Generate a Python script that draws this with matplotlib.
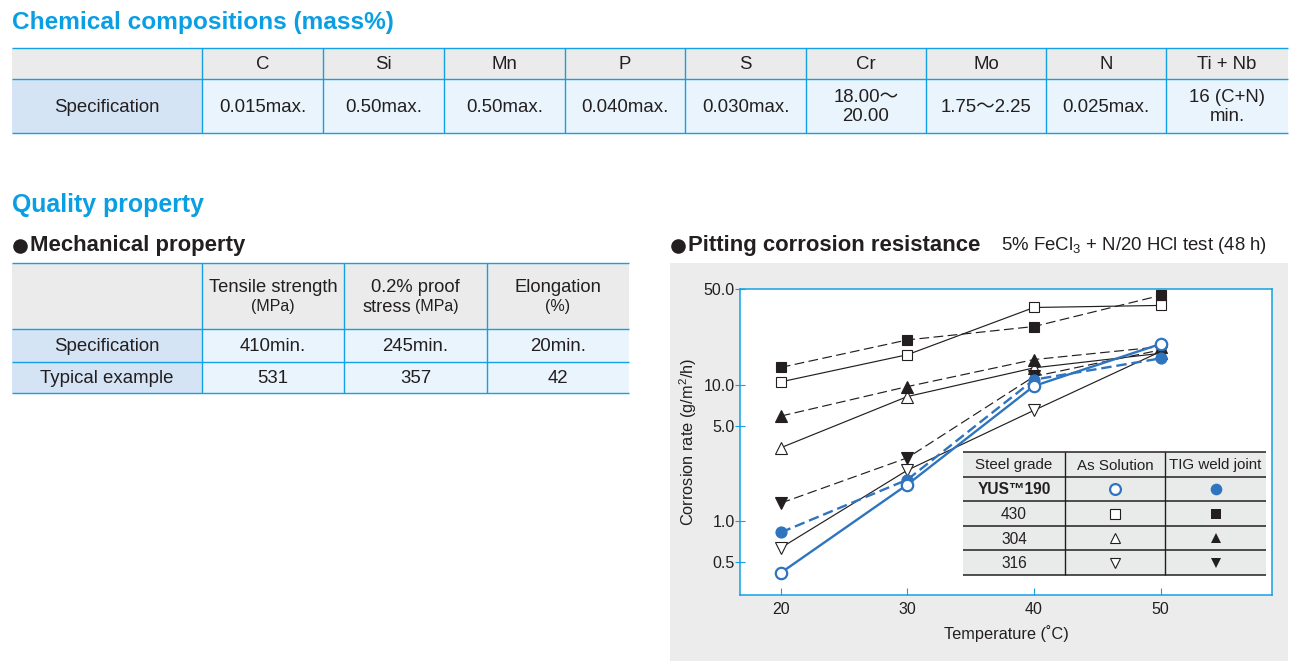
import matplotlib
matplotlib.use('Agg')
import matplotlib.pyplot as plt
from matplotlib.patches import Rectangle
import matplotlib.ticker as mticker

plt.rcParams['font.family'] = ['Liberation Sans', 'Noto Sans CJK JP', 'DejaVu Sans']
plt.rcParams['mathtext.fontset'] = 'custom'
plt.rcParams['mathtext.rm'] = 'Liberation Sans'
plt.rcParams['mathtext.it'] = 'Liberation Sans:italic'
plt.rcParams['mathtext.bf'] = 'Liberation Sans:bold'
plt.rcParams['lines.scale_dashes'] = False

# ---------------- data ----------------
chem_row_label = 'Specification'
chem_elements = ['C', 'Si', 'Mn', 'P', 'S', 'Cr', 'Mo', 'N', 'Ti + Nb']
chem_spec = ['0.015max.', '0.50max.', '0.50max.', '0.040max.', '0.030max.',
             '18.00～\n20.00', '1.75～2.25', '0.025max.', '16 (C+N)\nmin.']

mech_head_main = ['Tensile strength', '0.2% proof', 'Elongation']
mech_head_unit = ['(MPa)', '(MPa)', '(%)']
mech_rows = ['Specification', 'Typical example']
mech_spec = ['410min.', '245min.', '20min.']
mech_typ = ['531', '357', '42']

temps = [20, 30, 40, 50]
yus_as = [0.42, 1.86, 9.8, 19.9]
yus_tig = [0.83, 2.02, 10.9, 15.6]
s430_as = [10.5, 16.6, 36.8, 38.1]
s430_tig = [13.4, 21.3, 26.7, 45.1]
s304_as = [3.46, 8.2, 13.3, 17.0]
s304_tig = [5.9, 9.7, 15.3, 19.0]
s316_as = [0.64, 2.37, 6.5, 17.5]
s316_tig = [1.36, 2.92, 11.5, 18.0]

ytick_vals = [0.5, 1.0, 5.0, 10.0, 50.0]
ytick_labels = ['0.5', '1.0', '5.0', '10.0', '50.0']
xtick_vals = [20, 30, 40, 50]

legend_grades = ['YUS™190', '430', '304', '316']
legend_head = ['Steel grade', 'As Solution', 'TIG weld joint']

# ---------------- style ----------------
W, H = 1303, 672
CYAN = '#14a0e4'
TITLE = '#0a9fe3'
TXT = '#231f20'
GRAY_HEAD = '#ebebeb'
BLUE_LAB = '#d4e4f5'
BLUE_CELL = '#e9f4fc'
PANEL = '#ebeceb'
BLUE = '#2e74bf'
BLK = '#231f20'

fig = plt.figure(figsize=(W / 100, H / 100), dpi=100)
fig.patch.set_facecolor('white')

ov = fig.add_axes([0, 0, 1, 1], zorder=0)
ov.set_xlim(0, W)
ov.set_ylim(H, 0)
ov.axis('off')


def rect(a, x0, x1, y0, y1, c):
    a.add_patch(Rectangle((x0, y0), x1 - x0, y1 - y0, facecolor=c,
                          edgecolor='none', zorder=1))


def hline(a, y, x0, x1, c=CYAN, lw=1.0):
    a.plot([x0, x1], [y, y], color=c, lw=lw, solid_capstyle='butt', zorder=3)


def vline(a, x, y0, y1, c=CYAN, lw=1.0):
    a.plot([x, x], [y0, y1], color=c, lw=lw, solid_capstyle='butt', zorder=3)


# ---- section titles ----
ov.text(12, 22, 'Chemical compositions (mass%)', fontsize=17.6, fontweight='bold',
        color=TITLE, ha='left', va='center')
ov.text(12, 205, 'Quality property', fontsize=17.9, fontweight='bold',
        color=TITLE, ha='left', va='center')

# ---- chemical table ----
cols1 = [12, 202, 323, 444, 565, 685, 806, 926, 1046, 1166, 1288]
r1 = [48, 79, 133]
rect(ov, cols1[0], cols1[-1], r1[0], r1[1], GRAY_HEAD)
rect(ov, cols1[0], cols1[1], r1[1], r1[2], BLUE_LAB)
rect(ov, cols1[1], cols1[-1], r1[1], r1[2], BLUE_CELL)
for y in r1:
    hline(ov, y, cols1[0], cols1[-1])
for x in cols1[1:-1]:
    vline(ov, x, r1[0], r1[2])
ov.text((cols1[0] + cols1[1]) / 2, (r1[1] + r1[2]) / 2 + 1, chem_row_label,
        fontsize=13.4, color=TXT, ha='center', va='center')
for i, (el, sp) in enumerate(zip(chem_elements, chem_spec)):
    cx = (cols1[i + 1] + cols1[i + 2]) / 2
    ov.text(cx, (r1[0] + r1[1]) / 2 + 1, el, fontsize=13.4, color=TXT,
            ha='center', va='center')
    ov.text(cx, (r1[1] + r1[2]) / 2 + 1, sp, fontsize=13.4, color=TXT,
            ha='center', va='center', linespacing=1.1, multialignment='center')

# ---- mechanical property ----
ov.plot(20, 246, 'o', ms=10.5, color=BLK, mec='none', zorder=4)
ov.text(30, 246, 'Mechanical property', fontsize=15.9, fontweight='bold',
        color=BLK, ha='left', va='center')

cols2 = [12, 202, 344, 487, 629]
r2 = [263, 329, 362, 393]
rect(ov, cols2[0], cols2[-1], r2[0], r2[1], GRAY_HEAD)
rect(ov, cols2[0], cols2[1], r2[1], r2[3], BLUE_LAB)
rect(ov, cols2[1], cols2[-1], r2[1], r2[3], BLUE_CELL)
for y in r2:
    hline(ov, y, cols2[0], cols2[-1])
for x in cols2[1:-1]:
    vline(ov, x, r2[0], r2[3])
for i in range(3):
    cx = (cols2[i + 1] + cols2[i + 2]) / 2
    ov.text(cx, 287, mech_head_main[i], fontsize=13.2, color=TXT,
            ha='center', va='center')
    if i == 1:
        ov.text(cx - 4, 307, 'stress', fontsize=13.2, color=TXT,
                ha='right', va='center')
        ov.text(cx - 1, 307, mech_head_unit[i], fontsize=11.5, color=TXT,
                ha='left', va='center')
    else:
        ov.text(cx, 307, mech_head_unit[i], fontsize=11.5, color=TXT,
                ha='center', va='center')
for j, (lab, vals) in enumerate(zip(mech_rows, [mech_spec, mech_typ])):
    cy = (r2[j + 1] + r2[j + 2]) / 2 + 1
    ov.text((cols2[0] + cols2[1]) / 2, cy, lab, fontsize=13.4, color=TXT,
            ha='center', va='center')
    for i, v in enumerate(vals):
        cx = (cols2[i + 1] + cols2[i + 2]) / 2
        ov.text(cx, cy, v, fontsize=13.4, color=TXT, ha='center', va='center')

# ---- pitting corrosion header & panel ----
ov.plot(678, 246, 'o', ms=10.5, color=BLK, mec='none', zorder=4)
ov.text(688, 246, 'Pitting corrosion resistance', fontsize=15.9,
        fontweight='bold', color=BLK, ha='left', va='center')
ov.text(1001, 246, '5% FeCl$_3$ + N/20 HCl test (48 h)', fontsize=13.4,
        color=BLK, ha='left', va='center')
rect(ov, 670, 1288, 263, 661, PANEL)

# ---------------- chart ----------------
x0, x1, y0, y1 = 740.3, 1272.0, 289.3, 595.0
ax = fig.add_axes([x0 / W, 1 - y1 / H, (x1 - x0) / W, (y1 - y0) / H], zorder=1)
ax.set_facecolor('white')
ax.set_yscale('log')
ax.set_xlim(16.8, 58.8)
ax.set_ylim(0.289, 50)

dash_blk = (0, (7, 3.2))
dash_blu = (0, (7.5, 3.5))

black_series = [
    (s430_as, '-', 's', 'white', 7.4),
    (s430_tig, dash_blk, 's', BLK, 7.4),
    (s304_as, '-', '^', 'white', 8),
    (s304_tig, dash_blk, '^', BLK, 8),
    (s316_as, '-', 'v', 'white', 8),
    (s316_tig, dash_blk, 'v', BLK, 8),
]
for vals, ls, mk, fc, ms in black_series:
    ax.plot(temps, vals, color=BLK, lw=0.85, ls=ls, marker=mk, ms=ms,
            mfc=fc, mec=BLK, mew=0.8, zorder=3)

ax.plot(temps, yus_tig, color=BLUE, lw=1.7, ls=dash_blu, marker='o', ms=8.8,
        mfc=BLUE, mec=BLUE, mew=0, zorder=4)
ax.plot(temps, yus_as, color=BLUE, lw=1.7, ls='-', marker='o', ms=8.2,
        mfc='white', mec=BLUE, mew=1.6, zorder=5)

for s in ax.spines.values():
    s.set_color(CYAN)
    s.set_linewidth(1.1)
ax.yaxis.set_major_locator(mticker.FixedLocator(ytick_vals))
ax.yaxis.set_major_formatter(mticker.FixedFormatter(ytick_labels))
ax.yaxis.set_minor_locator(mticker.NullLocator())
ax.set_xticks(xtick_vals)
ax.set_xticklabels([str(v) for v in xtick_vals])
ax.tick_params(axis='y', direction='inout', length=7, width=0.8, color=CYAN,
               pad=0.5, labelsize=11.5, labelcolor=TXT)
ax.tick_params(axis='x', direction='in', length=5, width=0.8, color=CYAN,
               pad=5, labelsize=11.5, labelcolor=TXT)
ax.set_xlabel('Temperature (˚C)', fontsize=11.8, color=TXT, labelpad=6)
ax.set_ylabel('Corrosion rate (g/m$^2$/h)', fontsize=11.8, color=TXT,
              labelpad=3)

# ---------------- legend table (overlay) ----------------
lg = fig.add_axes([0, 0, 1, 1], zorder=2)
lg.set_xlim(0, W)
lg.set_ylim(H, 0)
lg.axis('off')
lcols = [963, 1065, 1165, 1266]
lrows = [452, 477, 501, 526, 550, 575]
rect(lg, lcols[0], lcols[-1], lrows[0], lrows[-1], '#e9eaea')
for y in lrows:
    hline(lg, y, lcols[0], lcols[-1], c=BLK, lw=1.1)
for x in lcols[1:-1]:
    vline(lg, x, lrows[0], lrows[-1], c=BLK, lw=1.0)
ccx = [(lcols[i] + lcols[i + 1]) / 2 for i in range(3)]
ccy = [(lrows[i] + lrows[i + 1]) / 2 for i in range(5)]
for i, h in enumerate(legend_head):
    lg.text(ccx[i], ccy[0] + 1, h, fontsize=10.9, color=TXT, ha='center',
            va='center')
for j, g in enumerate(legend_grades):
    lg.text(ccx[0], ccy[j + 1] + 1, g, fontsize=11.2, color=TXT, ha='center',
            va='center', fontweight='bold' if j == 0 else 'normal')
leg_marks = [('o', BLUE, 7.8, 1.6, 8.4), ('s', BLK, 7, 0.8, 7.2),
             ('^', BLK, 7, 0.8, 7), ('v', BLK, 7, 0.8, 7)]
for j, (mk, c, ms_open, mew, ms_fill) in enumerate(leg_marks):
    lg.plot(ccx[1], ccy[j + 1], mk, ms=ms_open, mfc='white', mec=c, mew=mew,
            zorder=5)
    lg.plot(ccx[2], ccy[j + 1], mk, ms=ms_fill, mfc=c, mec=c, mew=0,
            zorder=5)

fig.savefig('out.png', dpi=100, facecolor='white')
